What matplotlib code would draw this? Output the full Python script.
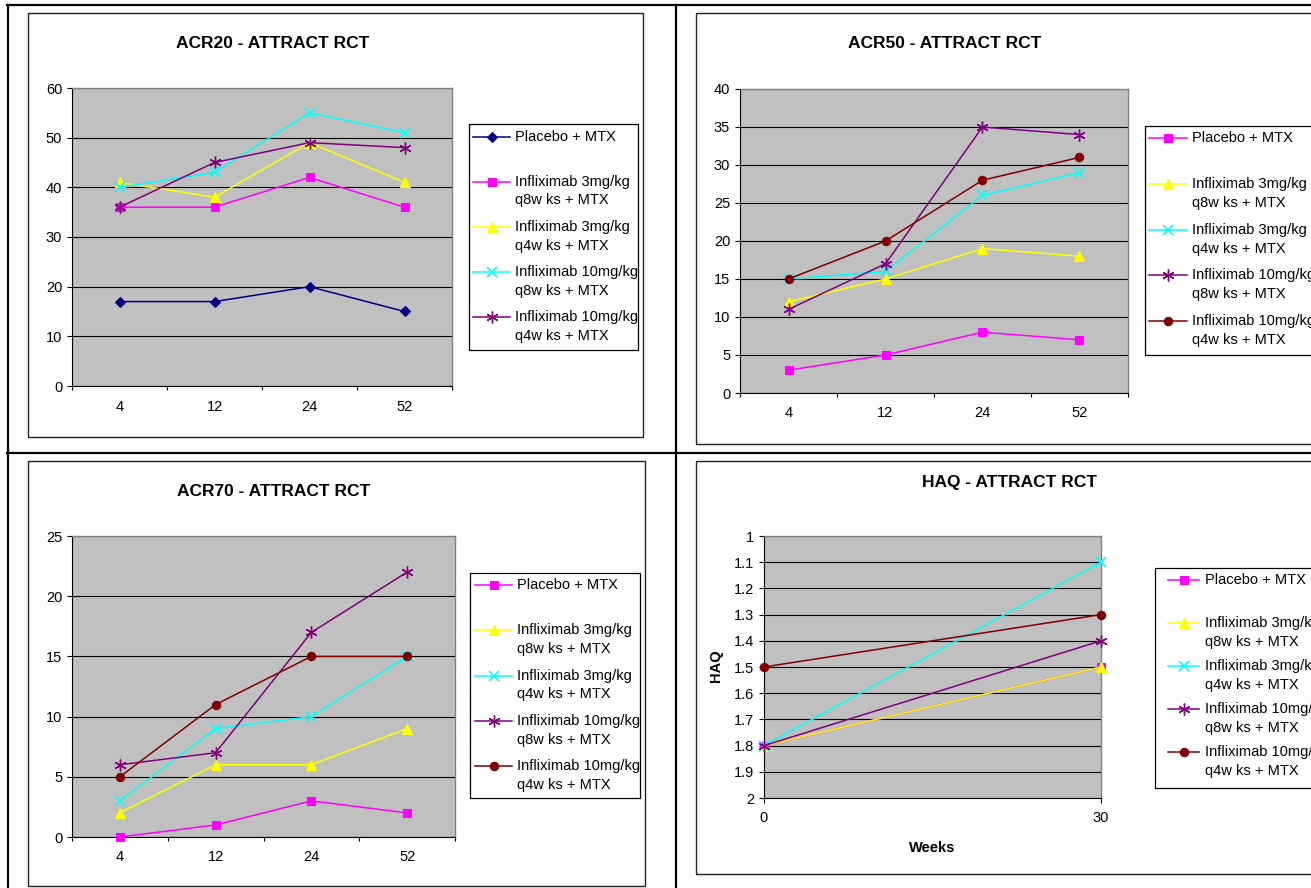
import numpy as np
import matplotlib
matplotlib.use("Agg")
import matplotlib.pyplot as plt
from matplotlib.lines import Line2D
from matplotlib.patches import Rectangle
from matplotlib.ticker import NullFormatter, FuncFormatter

plt.rcParams['font.family'] = ['Liberation Sans', 'DejaVu Sans']

# ---------------- data ----------------
weeks_acr = ['4', '12', '24', '52']

series_labels = [
    ['Placebo + MTX'],
    ['Infliximab 3mg/kg', 'q8w ks + MTX'],
    ['Infliximab 3mg/kg', 'q4w ks + MTX'],
    ['Infliximab 10mg/kg', 'q8w ks + MTX'],
    ['Infliximab 10mg/kg', 'q4w ks + MTX'],
]

acr20_placebo = [17, 17, 20, 15]
acr20_3mg_q8 = [36, 36, 42, 36]
acr20_3mg_q4 = [41, 38, 49, 41]
acr20_10mg_q8 = [40, 43, 55, 51]
acr20_10mg_q4 = [36, 45, 49, 48]

acr50_placebo = [3, 5, 8, 7]
acr50_3mg_q8 = [12, 15, 19, 18]
acr50_3mg_q4 = [15, 16, 26, 29]
acr50_10mg_q8 = [11, 17, 35, 34]
acr50_10mg_q4 = [15, 20, 28, 31]

acr70_placebo = [0, 1, 3, 2]
acr70_3mg_q8 = [2, 6, 6, 9]
acr70_3mg_q4 = [3, 9, 10, 15]
acr70_10mg_q8 = [6, 7, 17, 22]
acr70_10mg_q4 = [5, 11, 15, 15]

haq_weeks = [0, 30]
haq_placebo = [1.8, 1.5]
haq_3mg_q8 = [1.8, 1.5]
haq_3mg_q4 = [1.8, 1.1]
haq_10mg_q8 = [1.8, 1.4]
haq_10mg_q4 = [1.5, 1.3]

# ---------------- styles ----------------
NAVY = dict(color='#000080', marker='D', ms=5.0, mew=0.8)
MAGENTA = dict(color='#FF00FF', marker='s', ms=5.5, mew=0.8)
YELLOW = dict(color='#FFFF00', marker='^', ms=7, mew=0.8)
CYAN = dict(color='#00FFFF', marker='x', ms=6.5, mew=1.2)
PURPLE = dict(color='#800080', marker=(6, 2, 0), ms=8.5, mew=1.0)
DARKRED = dict(color='#800000', marker='o', ms=6, mew=0.8)

styles_acr20 = [NAVY, MAGENTA, YELLOW, CYAN, PURPLE]
styles_other = [MAGENTA, YELLOW, CYAN, PURPLE, DARKRED]

W, H = 1311, 888
fig = plt.figure(figsize=(W / 100, H / 100), dpi=100)
FS = 10.5


def fx(x):
    return x / W


def fy(y):
    return 1 - y / H


def axes_px(l, t, r, b):
    return fig.add_axes([l / W, 1 - b / H, (r - l) / W, (b - t) / H])


def plot_series(ax, x, y, st):
    ax.plot(x, y, color=st['color'], lw=1.1, marker=st['marker'],
            ms=st['ms'], mew=st['mew'], mfc=st['color'], mec=st['color'],
            clip_on=False, zorder=3)


def base_style(ax):
    ax.set_facecolor('#C0C0C0')
    for s in ('left', 'bottom'):
        ax.spines[s].set_color('black')
        ax.spines[s].set_linewidth(0.8)
    for s in ('top', 'right'):
        ax.spines[s].set_color('#808080')
        ax.spines[s].set_linewidth(1.0)
    ax.set_axisbelow(True)
    ax.yaxis.grid(True, color='black', lw=0.8)
    ax.tick_params(axis='y', direction='out', length=3.6, width=0.8,
                   pad=3.5, labelsize=FS)


def category_axis(ax, cats, pad):
    n = len(cats)
    ax.set_xlim(-0.5, n - 0.5)
    ax.set_xticks(np.arange(-0.5, n, 1.0))
    ax.xaxis.set_major_formatter(NullFormatter())
    ax.set_xticks(np.arange(n), minor=True)
    ax.set_xticklabels(cats, minor=True)
    ax.tick_params(axis='x', which='major', direction='out', length=3,
                   width=0.8)
    ax.tick_params(axis='x', which='minor', length=0, pad=pad,
                   labelsize=FS)


def legend_px(box, y0, step, lh, hx0, hx1, tx, styles):
    l, t, r, b = box
    fig.add_artist(Rectangle((fx(l), fy(b)), (r - l) / W, (b - t) / H,
                             transform=fig.transFigure, fc='white',
                             ec='black', lw=0.9))
    for i, (lab, st) in enumerate(zip(series_labels, styles)):
        yy = y0 + i * step
        fig.add_artist(Line2D([fx(hx0), fx(hx1)], [fy(yy), fy(yy)],
                              transform=fig.transFigure, color=st['color'],
                              lw=1.1))
        fig.add_artist(Line2D([fx((hx0 + hx1) / 2)], [fy(yy)],
                              transform=fig.transFigure, ls='none',
                              marker=st['marker'], ms=st['ms'],
                              mew=st['mew'], mfc=st['color'],
                              mec=st['color']))
        for k, line in enumerate(lab):
            fig.text(fx(tx), fy(yy + k * lh), line, fontsize=FS,
                     ha='left', va='center')


def frame_px(l, t, r, b):
    fig.add_artist(Rectangle((fx(l), fy(b)), (r - l) / W, (b - t) / H,
                             transform=fig.transFigure, fill=False,
                             ec='#222222', lw=1.0))


def rule(x0, y0, x1, y1):
    fig.add_artist(Line2D([fx(x0), fx(x1)], [fy(y0), fy(y1)],
                          transform=fig.transFigure, color='black', lw=1.6))


# ---------------- table rules and chart frames ----------------
rule(7, 5.5, W, 5.5)
rule(7.5, 5, 7.5, H)
rule(676.5, 5, 676.5, H)
rule(7, 452.5, W, 452.5)

frame_px(28, 13, 643, 437)
frame_px(696, 13, 1330, 444)
frame_px(28, 461, 645, 886)
frame_px(696, 461, 1330, 874)

x_acr = np.arange(len(weeks_acr))

# ---------------- ACR20 ----------------
ax = axes_px(72, 88, 452, 386)
base_style(ax)
for y, st in zip([acr20_placebo, acr20_3mg_q8, acr20_3mg_q4,
                  acr20_10mg_q8, acr20_10mg_q4], styles_acr20):
    plot_series(ax, x_acr, y, st)
ax.set_ylim(0, 60)
ax.set_yticks(np.arange(0, 61, 10))
category_axis(ax, weeks_acr, pad=10)
fig.text(fx(273), fy(43), 'ACR20 - ATTRACT RCT', fontsize=12.5,
         fontweight='bold', ha='center', va='center')
legend_px((469, 124, 638, 350), 136.7, 45.2, 18.5, 473, 510, 515,
          styles_acr20)

# ---------------- ACR50 ----------------
ax = axes_px(740, 89, 1128, 393)
base_style(ax)
for y, st in zip([acr50_placebo, acr50_3mg_q8, acr50_3mg_q4,
                  acr50_10mg_q8, acr50_10mg_q4], styles_other):
    plot_series(ax, x_acr, y, st)
ax.set_ylim(0, 40)
ax.set_yticks(np.arange(0, 41, 5))
category_axis(ax, weeks_acr, pad=9.5)
fig.text(fx(945), fy(43), 'ACR50 - ATTRACT RCT', fontsize=12.5,
         fontweight='bold', ha='center', va='center')
legend_px((1145, 126, 1330, 355), 138.3, 45.7, 19, 1149, 1187, 1192,
          styles_other)

# ---------------- ACR70 ----------------
ax = axes_px(72, 536, 455, 837)
base_style(ax)
for y, st in zip([acr70_placebo, acr70_3mg_q8, acr70_3mg_q4,
                  acr70_10mg_q8, acr70_10mg_q4], styles_other):
    plot_series(ax, x_acr, y, st)
ax.set_ylim(0, 25)
ax.set_yticks(np.arange(0, 26, 5))
category_axis(ax, weeks_acr, pad=9.5)
fig.text(fx(274), fy(491.5), 'ACR70 - ATTRACT RCT', fontsize=12.5,
         fontweight='bold', ha='center', va='center')
legend_px((470, 573, 640, 798), 585, 45.3, 18.7, 475, 512, 517,
          styles_other)

# ---------------- HAQ ----------------
ax = axes_px(764, 536, 1101, 798)
base_style(ax)
for y, st in zip([haq_placebo, haq_3mg_q8, haq_3mg_q4,
                  haq_10mg_q8, haq_10mg_q4], styles_other):
    plot_series(ax, haq_weeks, y, st)
ax.set_xlim(0, 30)
ax.set_ylim(2, 1)
ax.set_yticks(np.round(np.arange(1, 2.01, 0.1), 1))
ax.yaxis.set_major_formatter(FuncFormatter(lambda v, p: f'{round(v, 1):g}'))
ax.set_xticks(haq_weeks)
ax.tick_params(axis='x', direction='out', length=3.6, width=0.8, pad=6,
               labelsize=FS)
fig.text(fx(1009), fy(482), 'HAQ - ATTRACT RCT', fontsize=12.5,
         fontweight='bold', ha='center', va='center')
fig.text(fx(716), fy(666), 'HAQ', fontsize=FS, fontweight='bold',
         rotation=90, ha='center', va='center')
fig.text(fx(932), fy(848), 'Weeks', fontsize=FS, fontweight='bold',
         ha='center', va='center')
legend_px((1155, 568, 1330, 788), 580, 43, 19, 1168, 1199, 1205,
          styles_other)

fig.savefig('out.png', dpi=100)
